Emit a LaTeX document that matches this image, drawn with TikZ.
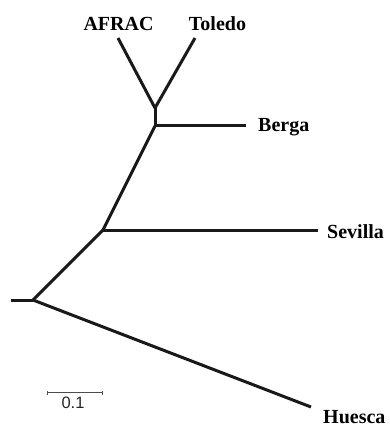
\documentclass[tikz,border=0pt]{standalone}
\usepackage{fontspec}
\setmainfont{Liberation Serif}
\newfontfamily\scalefont{Liberation Sans}
\begin{document}
\begin{tikzpicture}[x=1pt,y=-1pt,
  branch/.style={line width=3pt,draw=black!90,line cap=butt,line join=miter},
  leaf/.style={font=\fontsize{20}{24}\selectfont\bfseries,inner sep=0pt,anchor=base west},
  scalebar/.style={draw=black!70,line width=1pt},
  scalelabel/.style={font=\scalefont\fontsize{16.5}{20}\selectfont,inner sep=0pt,anchor=base,text=black!85}]
\useasboundingbox (0,0) rectangle (389,427);
% internal nodes
\coordinate (root) at (33,300);
\coordinate (rootstub) at (11,300);
\coordinate (n1) at (103,230);
\coordinate (n2) at (155,126);
\coordinate (n3) at (155,108);
% leaf tips
\coordinate (tAFRAC) at (118,38);
\coordinate (tToledo) at (195,38);
\coordinate (tBerga) at (246,126);
\coordinate (tSevilla) at (318,230);
\coordinate (tHuesca) at (311,407);
% labels
\node[leaf,anchor=base] (lAFRAC) at (118.5,31) {AFRAC};
\node[leaf,anchor=base] (lToledo) at (217.5,31) {Toledo};
\node[leaf] (lBerga) at (258,132) {Berga};
\node[leaf] (lSevilla) at (327,238) {Sevilla};
\node[leaf,text depth=0pt] (lHuesca) at (323,423) {Huesca};
% branches
\draw[branch] (rootstub) -- (root);
\draw[branch] (root) -- (tHuesca);
\draw[branch] (root) -- (n1);
\draw[branch] (n1) -- (tSevilla);
\draw[branch] (n1) -- (n2);
\draw[branch] (n2) -- (tBerga);
\draw[branch] (n2) -- (n3);
\draw[branch] (n3) -- (tAFRAC);
\draw[branch] (n3) -- (tToledo);
% scale bar
\coordinate (sbL) at (47,392.5);
\coordinate (sbR) at (102,392.5);
\draw[scalebar] (sbL) -- (sbR);
\draw[scalebar] ([yshift=-2pt]sbL) -- ([yshift=2pt]sbL);
\draw[scalebar] ([yshift=-2pt]sbR) -- ([yshift=2pt]sbR);
\node[scalelabel] (sblabel) at (73,408) {0.1};
\end{tikzpicture}
\end{document}
